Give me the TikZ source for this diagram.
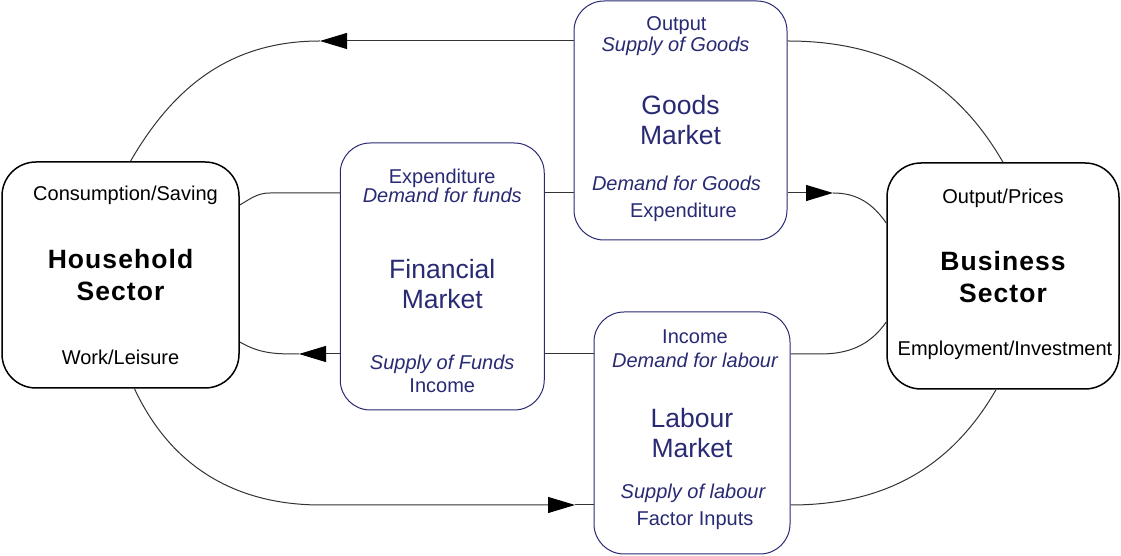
\documentclass[tikz,border=0pt]{standalone}
\usepackage{fontspec}
\setmainfont{Liberation Sans}
\usetikzlibrary{arrows.meta, positioning}

\definecolor{navy}{RGB}{40,42,115}
\newcommand{\lblfont}{\fontsize{10}{12}\selectfont}
\newcommand{\titlefont}{\fontsize{13.25}{15}\selectfont}
\newcommand{\sectfont}{\fontsize{13.25}{16}\selectfont\bfseries\addfontfeature{LetterSpace=4}}

\tikzset{
    sector/.style={draw=black, line width=0.75pt, rounded corners=17pt, fill=white, inner sep=0pt},
    market/.style={draw=navy, line width=0.5pt, rounded corners=15pt, fill=white, inner sep=0pt},
    lbl/.style={font=\lblfont, inner sep=0pt, text height=7.2pt, text depth=0pt},
    mlbl/.style={lbl, text=navy},
    ilbl/.style={mlbl, font=\lblfont\itshape},
    mtitle/.style={font=\titlefont, text=navy, align=center, inner sep=0pt},
    stitle/.style={font=\sectfont, align=center, inner sep=0pt},
    wire/.style={draw=black!80, line width=0.5pt},
    flow/.style={wire, -{Triangle[length=13.5pt, width=8pt, color=black]}}
}

\begin{document}
\begin{tikzpicture}[x=0.5pt, y=0.5pt]
    \useasboundingbox (0,0) rectangle (1121,556);

    % sectors
    \node[sector, minimum width=118.5pt, minimum height=113pt] (hh) at (120.5,281) {};
    \node[sector, minimum width=116pt, minimum height=113pt] (bus) at (1003,280) {};
    \node[stitle] (hh-title) at (hh.center) {Household\\Sector};
    \node[stitle] (bus-title) at ([yshift=-0.75pt]bus.center) {Business\\Sector};

    % markets
    \node[market, minimum width=102pt, minimum height=133.5pt, right=50pt of hh, yshift=-0.75pt] (fin) {};
    \node[market, minimum width=106.5pt, minimum height=119.5pt] (goods) at (680.5,435.5) {};
    \node[market, minimum width=98pt, minimum height=121pt] (lab) at (692,123) {};
    \node[mtitle] (fin-title) at ([yshift=-3.75pt]fin.center) {Financial\\Market};
    \node[mtitle] (goods-title) at (goods.center) {Goods\\Market};
    \node[mtitle] (lab-title) at (lab.center) {Labour\\Market};

    % labels inside the sectors
    \node[lbl] (hh-cons) at ([xshift=2.5pt, yshift=-16pt]hh.north) {Consumption/Saving};
    \node[lbl] (hh-work) at ([yshift=15.5pt]hh.south) {Work/Leisure};
    \node[lbl] (bus-out) at ([yshift=-17pt]bus.north) {Output/Prices};
    \node[lbl] (bus-emp) at ([xshift=1pt, yshift=20.5pt]bus.south) {Employment/Investment};

    % labels inside the markets
    \node[mlbl] (fin-exp) at ([yshift=-17pt]fin.north) {Expenditure};
    \node[ilbl] (fin-dem) at ([yshift=-26.5pt]fin.north) {Demand for funds};
    \node[ilbl] (fin-sup) at ([yshift=24pt]fin.south) {Supply of Funds};
    \node[mlbl] (fin-inc) at ([yshift=12.5pt]fin.south) {Income};
    \node[mlbl] (goods-out) at ([xshift=-2pt, yshift=-11.5pt]goods.north) {Output};
    \node[ilbl] (goods-sup) at ([xshift=-2.5pt, yshift=-22pt]goods.north) {Supply of Goods};
    \node[ilbl] (goods-dem) at ([xshift=-2pt, yshift=28.5pt]goods.south) {Demand for Goods};
    \node[mlbl] (goods-exp) at ([xshift=1.5pt, yshift=15pt]goods.south) {Expenditure};
    \node[mlbl] (lab-inc) at ([xshift=1.5pt, yshift=-12.5pt]lab.north) {Income};
    \node[ilbl] (lab-dem) at ([xshift=1.5pt, yshift=-24.5pt]lab.north) {Demand for labour};
    \node[ilbl] (lab-sup) at ([xshift=0.5pt, yshift=31.5pt]lab.south) {Supply of labour};
    \node[mlbl] (lab-fac) at ([xshift=1.5pt, yshift=18pt]lab.south) {Factor Inputs};

    % arrow tips and bends
    \coordinate (tip1) at (320,515);
    \coordinate (tip2) at (833,363);
    \coordinate (tip3) at (299,202);
    \coordinate (tip4) at (575,51);
    \coordinate (bend2) at (270,363);
    \coordinate (bend3) at (820,202);
    \coordinate (bend4) at (321,51);

    % outer top loop
    \draw[wire] (goods.east |- tip1) to[out=0, in=120] (bus.north);
    \draw[flow] (goods.west |- tip1) -- (tip1);
    \draw[wire] (tip1) to[out=180, in=60] ([xshift=5pt]hh.north);

    % upper row
    \draw[wire] ([yshift=35pt]hh.east) to[out=30, in=180] (bend2) -- (fin.west |- bend2);
    \draw[wire] (fin.east |- tip2) -- (goods.west |- tip2);
    \draw[flow] (goods.east |- tip2) -- (tip2);
    \draw[wire] (tip2) to[out=0, in=125] ([yshift=26.5pt]bus.west);

    % lower row
    \draw[wire] ([yshift=-23pt]bus.west) to[out=235, in=0] (bend3) -- (lab.east |- bend3);
    \draw[wire] (lab.west |- tip3) -- (fin.east |- tip3);
    \draw[flow] (fin.west |- tip3) -- (tip3);
    \draw[wire] (tip3) to[out=180, in=-30] ([yshift=-33.5pt]hh.east);

    % outer bottom loop
    \draw[flow] ([xshift=7pt]hh.south) to[out=-65, in=180] (bend4) -- (tip4);
    \draw[wire] (tip4) -- (lab.west |- tip4);
    \draw[wire] (lab.east |- tip4) to[out=0, in=-120] ([xshift=-3.5pt]bus.south);
\end{tikzpicture}
\end{document}
